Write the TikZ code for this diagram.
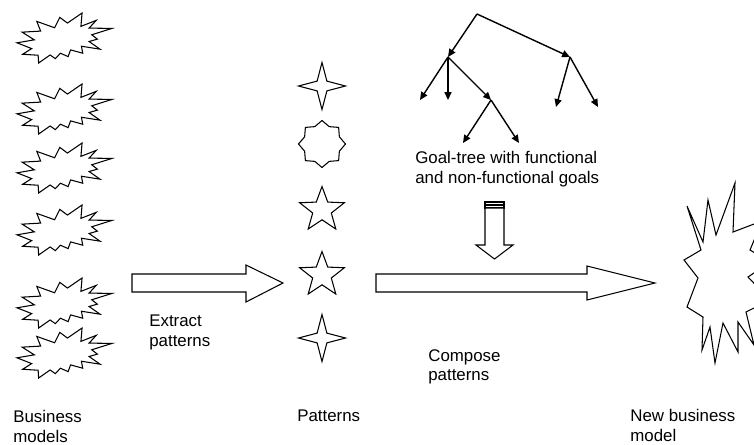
\documentclass[tikz,border=0pt]{standalone}
\usepackage{fontspec}
\setmainfont{Liberation Sans}
\usepackage{tikz}
\usetikzlibrary{arrows.meta, shapes.geometric, positioning}

\tikzset{
  outline/.style={draw=black, line width=0.6pt, fill=white},
  goal edge/.style={draw=black, line width=0.8pt, -{Triangle[length=4.5pt,width=4pt]}},
  pattern star/.style={star, outline, inner sep=0pt, minimum size=0.94cm},
  caption/.style={font=\fontsize{9.6}{11.2}\selectfont, align=left, inner sep=0pt, anchor=north west},
  oldmodel/.pic={
    \draw[outline] (11.462,4.342) -- (14.790,0) -- (14.525,5.777) -- (18.007,3.172)
      -- (16.380,6.532) -- (21.600,6.645) -- (16.985,9.402) -- (18.270,11.290)
      -- (16.380,12.310) -- (18.877,15.632) -- (14.640,14.350) -- (14.942,17.370)
      -- (12.180,15.935) -- (11.612,18.842) -- (9.872,17.370) -- (8.700,19.712)
      -- (7.527,18.125) -- (4.917,21.600) -- (4.805,18.240) -- (1.285,17.825)
      -- (3.330,15.370) -- (0,12.877) -- (3.935,11.592) -- (1.172,8.270)
      -- (5.372,7.817) -- (4.502,3.625) -- (8.550,6.382) -- (9.722,1.887) -- cycle;
  }
}

\begin{document}
\begin{tikzpicture}[x=0.02cm, y=-0.02cm]
  \useasboundingbox (0,0) rectangle (754,444);

  % Business models
  \foreach \y in {13,84,143,205,278,328}
    \pic[xscale=4.4, yscale=2.315] at (17,\y) {oldmodel};
  \node[caption] (models) at (13,410) {Business\\models};

  % Extract arrow
  \draw[outline] (132,274) -- (246,274) -- (246,265) -- (283,283) -- (246,302)
    -- (246,292) -- (132,292) -- cycle;
  \node[caption] (extract) at (149,315) {Extract\\patterns};

  % Patterns
  \node[pattern star, star points=4, star point ratio=3.4] (p1) at (322,86) {};
  \node[pattern star, star points=8, star point ratio=1.25] (p2) at (322,144) {};
  \node[pattern star, star points=5, star point ratio=2.4] (p3) at (322,210) {};
  \node[pattern star, star points=5, star point ratio=2.4] (p4) at (322,275) {};
  \node[pattern star, star points=4, star point ratio=3.4] (p5) at (322,338) {};
  \node[caption] (patterns) at (297,410) {Patterns};

  % Goal tree
  \coordinate (g0) at (477,14);
  \coordinate (g1) at (448,57);
  \coordinate (g2) at (570,57);
  \coordinate (g11) at (420,100);
  \coordinate (g12) at (448,100);
  \coordinate (g13) at (491,100);
  \coordinate (g131) at (463,143);
  \coordinate (g132) at (519,143);
  \coordinate (g21) at (556,107);
  \coordinate (g22) at (598,107);
  \foreach \a/\b in {g0/g1, g0/g2, g1/g11, g1/g12, g1/g13, g13/g131, g13/g132, g2/g21, g2/g22}
    \draw[goal edge] (\a) -- (\b);
  \node[caption] (goals) at (415,151) {Goal-tree with functional\\and non-functional goals};

  % Striped down arrow
  \draw[outline] (485,202) rectangle (504,205);
  \draw[outline] (485,205) rectangle (504,208);
  \draw[outline] (485,208) -- (504,208) -- (504,245) -- (513,245) -- (494.5,259)
    -- (476,245) -- (485,245) -- cycle;

  % Compose arrow
  \draw[outline] (376,274) -- (587,274) -- (587,266) -- (655,283) -- (587,300)
    -- (587,292) -- (376,292) -- cycle;
  \node[caption] (compose) at (428,349) {Compose\\patterns};

  % New business model
  \begin{scope}
    \clip (0,0) rectangle (754,444);
    \draw[outline] (687,206) -- (703,242) -- (708,200) -- (716,235) -- (735,183)
      -- (733,232) -- (762,221) -- (750,250) -- (770,262) -- (748,277) -- (770,300)
      -- (746,312) -- (754,345) -- (738,322) -- (738,352) -- (723,323) -- (715,363)
      -- (710,327) -- (702,350) -- (703,317) -- (687,307) -- (698,278) -- (684,260)
      -- (701,250) -- cycle;
  \end{scope}
  \node[caption] (newmodel) at (630,409) {New business\\model};
\end{tikzpicture}
\end{document}
